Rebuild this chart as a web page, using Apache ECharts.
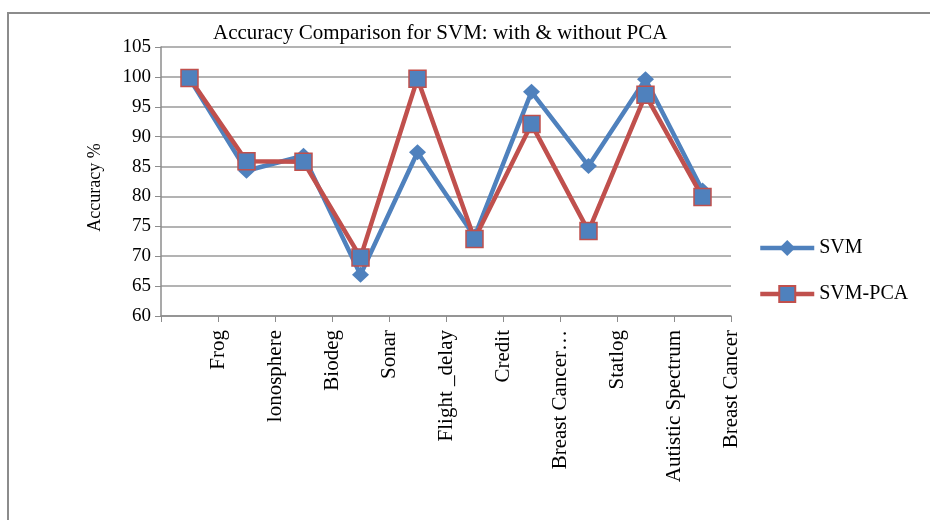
<!DOCTYPE html>
<html>
<head>
<meta charset="utf-8">
<script src="https://cdn.jsdelivr.net/npm/echarts@6/dist/echarts.min.js"></script>
<style>
html, body { margin: 0; padding: 0; background: #fff; }
#echart { width: 930px; height: 520px; }
</style>
</head>
<body>
<div id="echart"></div>
<script>
var categories = ['Frog', 'lonosphere', 'Biodeg', 'Sonar', 'Flight _delay', 'Credit',
	'Breast Cancer…', 'Statlog', 'Autistic Spectrum', 'Breast Cancer'];
var svmData = [99.7, 84.3, 86.8, 66.9, 87.4, 73.3, 97.5, 85.1, 99.6, 81.0];
var svmPcaData = [99.8, 85.9, 85.8, 69.8, 99.7, 72.9, 92.1, 74.2, 97.0, 79.9];
var yTicks = [60, 105, 5]; // min, max, step

var serif = 'Liberation Serif';
var myChart = echarts.init(document.getElementById('echart'));

option = {
	animation: false,
	backgroundColor: '#fff',
	title: {
		text: 'Accuracy Comparison for SVM: with & without PCA',
		left: 208,
		top: 18,
		textStyle: {
			fontFamily: serif,
			fontWeight: 'normal',
			fontSize: 21,
			color: '#000'
		}
	},
	graphic: [{
		type: 'rect',
		shape: { x: 8, y: 13, width: 940, height: 530 },
		style: { fill: 'none', stroke: '#8c8c8c', lineWidth: 2 },
		silent: true
	}],
	legend: {
		orient: 'vertical',
		left: 753,
		top: 233,
		itemGap: 26,
		itemWidth: 54,
		itemHeight: 20,
		lineStyle: { width: 4.5 },
		textStyle: {
			fontFamily: serif,
			fontSize: 20,
			color: '#000'
		},
		data: ['SVM', 'SVM-PCA']
	},
	grid: {
		left: 161,
		top: 47,
		width: 570,
		height: 269
	},
	xAxis: [{
		type: 'category',
		position: 'bottom',
		boundaryGap: true,
		data: categories,
		axisLine: { lineStyle: { color: '#8c8c8c', width: 1.5 } },
		axisTick: { show: false },
		axisLabel: { show: false }
	}, {
		// labels sit on the band edges, like the original
		type: 'category',
		position: 'bottom',
		boundaryGap: false,
		data: [''].concat(categories),
		axisLine: { show: false },
		axisTick: {
			show: true,
			interval: 0,
			length: 6,
			lineStyle: { color: '#8c8c8c' }
		},
		axisLabel: {
			interval: 0,
			rotate: 90,
			margin: 14,
			fontFamily: serif,
			fontSize: 21,
			color: '#000'
		}
	}],
	yAxis: {
		type: 'value',
		min: yTicks[0],
		max: yTicks[1],
		interval: yTicks[2],
		name: 'Accuracy %',
		nameLocation: 'middle',
		nameGap: 57,
		nameTextStyle: {
			fontFamily: serif,
			fontSize: 18,
			color: '#000',
			padding: [0, 12, 0, 0]
		},
		axisLine: { show: true, lineStyle: { color: '#8c8c8c', width: 1.5 } },
		axisTick: { show: true, length: 6, lineStyle: { color: '#8c8c8c' } },
		axisLabel: {
			margin: 10,
			fontFamily: serif,
			fontSize: 19,
			color: '#000'
		},
		splitLine: { lineStyle: { color: '#9a9a9a', width: 1.5 } }
	},
	series: [{
		name: 'SVM',
		type: 'line',
		xAxisIndex: 0,
		data: svmData,
		symbol: 'diamond',
		symbolSize: [17, 16],
		lineStyle: { color: '#4f81bd', width: 4.5 },
		itemStyle: { color: '#4f81bd' },
		z: 2
	}, {
		name: 'SVM-PCA',
		type: 'line',
		xAxisIndex: 0,
		data: svmPcaData,
		symbol: 'rect',
		symbolSize: 17,
		lineStyle: { color: '#c0504d', width: 4.5 },
		itemStyle: {
			color: '#4f81bd',
			borderColor: '#c0504d',
			borderWidth: 1.5
		},
		z: 3
	}]
};
myChart.setOption(option);
</script>
</body>
</html>
